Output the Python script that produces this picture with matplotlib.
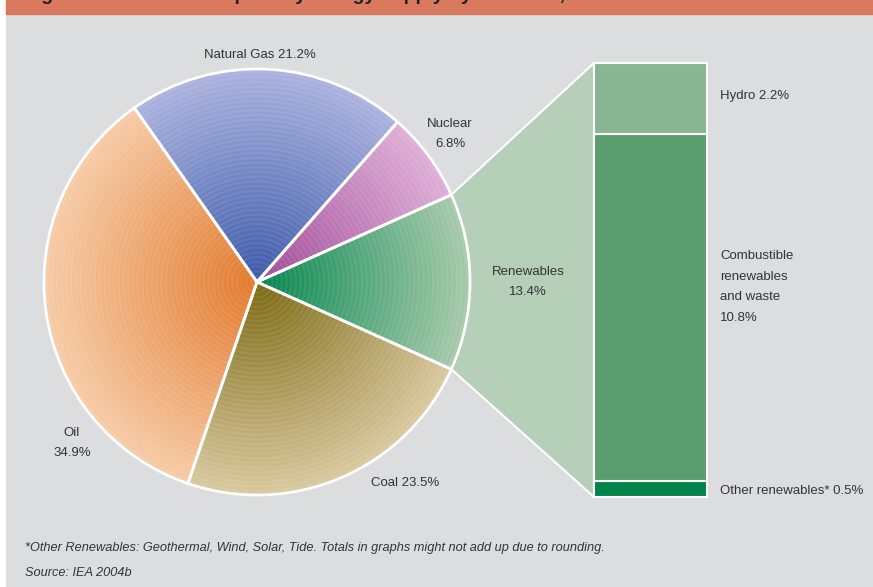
import numpy as np
import matplotlib
matplotlib.use("Agg")
import matplotlib.pyplot as plt
from matplotlib.patches import Rectangle, Polygon
from matplotlib.colors import to_rgb

## Data
sources = ["Renewables", "Nuclear", "Natural Gas", "Oil", "Coal"]
shares = [13.4, 6.8, 21.2, 34.9, 23.5]
source_labels = ["Renewables\n13.4%", "Nuclear\n6.8%", "Natural Gas 21.2%",
                 "Oil\n34.9%", "Coal 23.5%"]

renew_parts = ["Other renewables*", "Combustible renewables and waste", "Hydro"]
renew_shares = [0.5, 10.8, 2.2]
renew_labels = ["Other renewables* 0.5%",
                "Combustible\nrenewables\nand waste\n10.8%",
                "Hydro 2.2%"]

# (centre colour, rim colour) for each wedge's radial shading
centre_cols = ["#00844c", "#a04896", "#3a58a8", "#e2782a", "#7a6810"]
rim_cols = ["#a6c9aa", "#ddaed6", "#aab2de", "#f6cba6", "#d8c89e"]
bar_cols = ["#00834a", "#5a9e70", "#88b592"]

fnt = ["Liberation Sans", "DejaVu Sans"]
txt_col = "#333333"

W, H = 873, 587
fig = plt.figure(figsize=(W / 100, H / 100), dpi=100)
fig.patch.set_facecolor("white")
ax = fig.add_axes([0, 0, 1, 1])
ax.set_xlim(0, W)
ax.set_ylim(0, H)
ax.set_aspect("equal")
ax.axis("off")

# background panel + header band (title is cropped in the original)
ax.add_patch(Rectangle((6, 0), W - 6, H - 14, color="#dcdddf", zorder=0))
ax.add_patch(Rectangle((6, H - 14), W - 6, 14, color="#d97a5f", zorder=0))
fig.text(24 / W, 1.0, "Figure 2.1: World total primary energy supply by resource, 2002",
         family=fnt, fontsize=14, fontweight="bold", color="#222222", va="baseline")

centre = (257, 305)
R = 213
start = -shares[0] / sum(shares) * 360 / 2

# stacked bar for renewables breakdown (own axes)
ax2 = fig.add_axes([594 / W, 90 / H, 113 / W, 434 / H])
ax2.set_xlim(-0.5, 0.5)
ax2.set_ylim(0, sum(renew_shares))
ax2.axis("off")
bottom = 0
for val, col in zip(renew_shares, bar_cols):
    b = ax2.bar(0, val, bottom=bottom, width=1, color=col, edgecolor="white",
                linewidth=1.5)
    for p in b:
        p.set_clip_on(False)
    bottom += val

# connector between renewables wedge and bar
a1 = np.deg2rad(start + shares[0] / sum(shares) * 360)
a0 = np.deg2rad(start)
to_main = ax2.transData + ax.transData.inverted()
top_left = to_main.transform((-0.5, sum(renew_shares)))
bot_left = to_main.transform((-0.5, 0))
pts = [(centre[0] + R * np.cos(a1), centre[1] + R * np.sin(a1)), top_left,
       bot_left, (centre[0] + R * np.cos(a0), centre[1] + R * np.sin(a0))]
ax.add_patch(Polygon(pts, closed=True, facecolor="#b6cfb9", edgecolor="white",
                     linewidth=1.5, zorder=1))

# pie with radial shading: many concentric pies, outer to inner
n = 90
for i in range(n, 0, -1):
    t = i / n
    cols = []
    for c0, c1 in zip(centre_cols, rim_cols):
        c = (1 - t) * np.array(to_rgb(c0)) + t * np.array(to_rgb(c1))
        if i % 2:
            c = c + (1 - c) * 0.07   # faint ring texture
        cols.append(tuple(c))
    wedges, _ = ax.pie(shares, radius=R * t, center=centre, startangle=start,
                       colors=cols, wedgeprops=dict(linewidth=0), frame=True)
    for w in wedges:
        w.set_zorder(2)
wedges, _ = ax.pie(shares, radius=R, center=centre, startangle=start, frame=True,
                   wedgeprops=dict(fill=False, edgecolor="white", linewidth=2))
for w in wedges:
    w.set_zorder(3)
ax.set_xlim(0, W)
ax.set_ylim(0, H)
ax.axis("off")

# labels for pie
label_pos = [(528, 305), (450, 453), (260, 532), (72, 144), (405, 104)]
for lab, (x, y) in zip(source_labels, label_pos):
    ax.text(x, y, lab, ha="center", va="center", family=fnt, fontsize=9.5,
            color=txt_col, linespacing=1.95, zorder=5)

# labels for bar
bar_label_y = [96, 300, 491]
for lab, y in zip(renew_labels, bar_label_y):
    ax.text(720, y, lab, ha="left", va="center", family=fnt, fontsize=9.5,
            color=txt_col, linespacing=1.95, zorder=5)

# footnotes
ax.text(25, 39, "*Other Renewables: Geothermal, Wind, Solar, Tide. Totals in graphs "
        "might not add up due to rounding.", family=fnt, fontsize=9.2,
        style="italic", color=txt_col, va="center")
ax.text(25, 14, "Source: IEA 2004b", family=fnt, fontsize=9.2, style="italic",
        color=txt_col, va="center")

fig.savefig("out.png", dpi=100)
